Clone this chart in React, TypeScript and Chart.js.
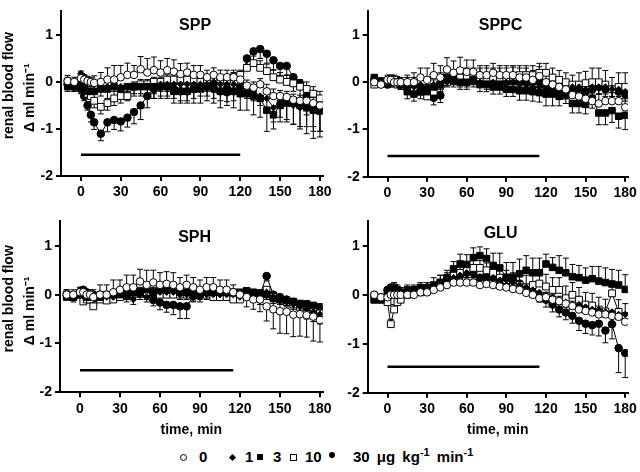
import React, { useEffect, useRef } from 'react';
import { Chart, registerables } from 'chart.js';

Chart.register(...registerables);

const FONT = '"Liberation Sans", Arial, Helvetica, sans-serif';

// ---------- DATA ----------
const TIMES = [
  -10, -5, 0, 2.5, 5, 7.5,
  10, 15, 20, 25, 30, 35,
  40, 45, 50, 55, 60, 65,
  70, 75, 80, 85, 90, 95,
  100, 105, 110, 115, 120, 125,
  130, 135, 140, 145, 150, 155,
  160, 165, 170, 175, 180,
];
const X_TICKS = [0, 30, 60, 90, 120, 150, 180];
const Y_TICKS = [-2, -1, 0, 1];
const DOSES = ['0', '1', '3', '10', '30'];
const PANEL_NAMES = ['SPP', 'SPPC', 'SPH', 'GLU'];
const Y_TITLE_LINES = ['renal blood flow', 'Δ ml min⁻¹'];
const BAR_START = [0, 0, 0, 0];
const BAR_END = [120, 115, 115, 115];
const BAR_LEVEL = [-1.55, -1.56, -1.55, -1.47];

// SPP
const SPP_0 = [0.02, 0.0, 0.08, 0.05, 0.02, 0.0, -0.02, 0.0, 0.05, 0.05, 0.1, 0.15, 0.15, 0.27, 0.2, 0.25, 0.2, 0.25, 0.22, 0.17, 0.2, 0.15, 0.15, 0.1, 0.15, 0.1, 0.1, 0.1, 0.05, -0.08, -0.12, -0.05, -0.2, -0.3, -0.3, -0.32, -0.38, -0.4, -0.4, -0.45, -0.5];
const SPP_0_ERR = [0.12, 0.1, 0.1, 0.1, 0.1, 0.1, 0.15, 0.2, 0.25, 0.3, 0.25, 0.25, 0.2, 0.27, 0.3, 0.28, 0.25, 0.25, 0.25, 0.22, 0.2, 0.2, 0.2, 0.15, 0.15, 0.15, 0.15, 0.15, 0.12, 0.12, 0.12, 0.12, 0.15, 0.15, 0.12, 0.12, 0.12, 0.12, 0.12, 0.12, 0.12];
const SPP_1 = [-0.05, -0.05, 0.18, 0.12, 0.05, 0.0, -0.05, -0.1, -0.1, -0.1, -0.1, -0.1, -0.1, -0.1, -0.1, -0.1, -0.05, -0.05, -0.05, -0.05, -0.05, -0.05, -0.05, -0.05, 0.0, -0.05, -0.05, -0.05, -0.1, -0.15, -0.2, -0.3, -0.35, -0.55, -0.4, -0.45, -0.5, -0.55, -0.55, -0.6, -0.6];
const SPP_1_ERR = [-0.1, -0.1, 0.05, -0.1, -0.1, -0.1, -0.1, -0.1, -0.1, -0.1, -0.1, -0.1, -0.15, -0.15, -0.15, -0.15, -0.15, -0.15, -0.15, -0.15, -0.15, -0.15, -0.15, -0.15, -0.15, -0.15, -0.15, -0.15, -0.15, -0.2, -0.2, -0.2, -0.3, -0.3, -0.35, -0.35, -0.4, -0.4, -0.4, -0.45, -0.45];
const SPP_3 = [-0.1, -0.1, -0.05, -0.15, -0.2, -0.2, -0.2, -0.15, -0.15, -0.1, -0.15, -0.1, -0.1, -0.1, -0.1, -0.1, -0.1, -0.1, -0.2, -0.2, -0.2, -0.15, -0.15, -0.1, -0.1, -0.2, -0.15, -0.2, -0.25, -0.25, -0.3, -0.35, -0.6, -0.7, -0.5, -0.45, -0.45, -0.5, -0.55, -0.6, -0.62];
const SPP_3_ERR = [-0.1, -0.1, -0.1, -0.1, -0.1, -0.15, -0.15, -0.15, -0.2, -0.2, -0.2, -0.2, -0.2, -0.2, -0.2, -0.25, -0.25, -0.25, -0.25, -0.25, -0.25, -0.3, -0.3, -0.3, -0.35, -0.35, -0.35, -0.35, -0.35, -0.35, -0.4, -0.4, -0.45, -0.3, -0.35, -0.4, -0.45, -0.5, -0.55, -0.6, -0.55];
const SPP_10 = [0.0, -0.05, 0.0, -0.15, -0.25, -0.3, -0.4, -0.53, -0.45, -0.35, -0.3, -0.3, -0.1, -0.05, -0.05, 0.0, 0.0, 0.05, 0.05, 0.05, 0.05, 0.05, 0.0, 0.05, 0.05, 0.05, 0.05, 0.1, 0.15, 0.3, 0.4, 0.3, 0.23, 0.1, 0.05, 0.0, -0.03, -0.1, -0.15, -0.25, -0.35];
const SPP_10_ERR = [0.1, 0.1, 0.1, -0.1, -0.1, -0.12, -0.15, -0.15, -0.15, -0.15, -0.15, -0.1, 0.1, 0.1, 0.1, 0.1, 0.1, 0.1, 0.1, 0.1, 0.1, 0.1, 0.1, 0.1, 0.1, 0.1, 0.1, 0.1, 0.1, 0.15, 0.15, 0.15, 0.15, 0.15, 0.15, 0.15, 0.15, 0.15, 0.15, 0.15, 0.15];
const SPP_30 = [-0.05, -0.1, -0.15, -0.3, -0.5, -0.7, -0.86, -1.1, -0.86, -0.81, -0.84, -0.76, -0.64, -0.5, -0.3, -0.15, -0.1, -0.1, -0.15, -0.2, -0.2, -0.15, -0.1, -0.1, -0.15, -0.2, -0.22, -0.2, -0.1, 0.5, 0.65, 0.7, 0.6, 0.46, 0.34, 0.34, 0.1, -0.03, -0.3, -0.5, -0.6];
const SPP_30_ERR = [-0.05, -0.1, -0.1, -0.1, -0.1, -0.15, -0.15, -0.15, -0.2, -0.2, -0.2, -0.2, -0.25, -0.3, -0.25, -0.2, -0.2, -0.2, -0.2, -0.2, -0.2, -0.2, -0.2, -0.2, -0.2, -0.2, -0.2, -0.2, -0.2, -0.2, -0.2, -0.2, -0.2, -0.2, -0.2, -0.2, -0.3, -0.35, -0.4, -0.45, -0.45];

// SPPC
const SPPC_0 = [0.0, -0.05, 0.05, 0.05, 0.0, 0.0, 0.0, 0.0, 0.0, 0.1, 0.05, 0.15, 0.1, 0.27, 0.2, 0.25, 0.22, 0.22, 0.15, 0.15, 0.2, 0.15, 0.15, 0.15, 0.1, 0.1, 0.05, 0.13, 0.0, -0.05, -0.1, -0.15, -0.27, -0.3, -0.35, -0.4, -0.45, -0.4, -0.4, -0.4, -0.53];
const SPPC_0_ERR = [0.1, 0.1, 0.1, 0.1, 0.1, 0.1, 0.1, 0.15, 0.2, 0.2, 0.25, 0.25, 0.25, 0.25, 0.25, 0.28, 0.25, 0.25, 0.2, 0.2, 0.2, 0.2, 0.2, 0.2, 0.2, 0.2, 0.2, 0.2, 0.2, 0.2, 0.2, 0.2, 0.2, 0.2, 0.2, 0.2, 0.2, 0.2, 0.2, 0.2, 0.2];
const SPPC_1 = [0.0, 0.0, 0.05, 0.05, 0.0, -0.05, -0.05, -0.1, -0.1, -0.05, -0.1, -0.05, -0.05, 0.0, 0.05, 0.0, 0.0, 0.05, 0.0, -0.05, 0.0, -0.05, 0.0, 0.0, -0.05, -0.05, -0.1, -0.1, -0.15, -0.15, -0.2, -0.2, -0.1, -0.1, -0.15, -0.1, -0.1, -0.1, -0.15, -0.15, -0.2];
const SPPC_1_ERR = [-0.05, -0.05, -0.05, -0.05, -0.05, -0.05, -0.1, -0.1, -0.1, -0.1, -0.1, -0.1, -0.1, -0.1, -0.1, -0.1, -0.1, -0.1, -0.1, -0.1, -0.1, -0.1, -0.1, -0.1, -0.1, -0.1, -0.1, -0.1, -0.15, -0.15, -0.15, -0.15, -0.15, -0.15, -0.15, -0.15, -0.15, -0.15, -0.15, -0.15, -0.15];
const SPPC_3 = [0.1, 0.0, 0.0, 0.0, 0.0, 0.0, -0.05, -0.2, -0.25, -0.2, -0.2, -0.1, -0.05, 0.1, 0.05, 0.0, 0.0, 0.05, -0.05, -0.05, -0.1, -0.1, -0.15, -0.15, -0.18, -0.18, -0.2, -0.22, -0.25, -0.25, -0.3, -0.25, -0.45, -0.45, -0.47, -0.35, -0.65, -0.65, -0.6, -0.72, -0.7];
const SPPC_3_ERR = [-0.1, -0.1, -0.1, -0.1, -0.1, -0.1, -0.1, -0.15, -0.15, -0.15, -0.15, -0.15, -0.15, -0.15, -0.15, -0.15, -0.15, -0.15, -0.15, -0.15, -0.15, -0.15, -0.15, -0.15, -0.2, -0.2, -0.2, -0.2, -0.25, -0.25, -0.2, -0.2, -0.2, -0.2, -0.2, -0.2, -0.25, -0.25, -0.25, -0.25, -0.3];
const SPPC_10 = [-0.05, 0.0, 0.0, 0.05, 0.05, -0.05, -0.05, -0.1, -0.15, -0.2, -0.3, -0.2, -0.05, 0.0, 0.05, 0.1, 0.1, 0.1, 0.1, 0.1, 0.1, 0.1, 0.1, 0.12, 0.15, 0.15, 0.15, 0.2, 0.2, 0.1, 0.05, 0.0, -0.05, -0.05, -0.02, 0.0, 0.0, -0.05, -0.15, -0.1, -0.1];
const SPPC_10_ERR = [0.1, 0.1, 0.1, 0.1, 0.1, 0.1, 0.1, 0.2, 0.25, 0.3, 0.25, 0.25, 0.25, 0.2, 0.2, 0.2, 0.2, 0.2, 0.2, 0.2, 0.2, 0.2, 0.2, 0.2, 0.2, 0.2, 0.2, 0.2, 0.2, 0.2, 0.2, 0.2, 0.2, 0.25, 0.25, 0.3, 0.3, 0.3, 0.25, 0.3, 0.3];
const SPPC_30 = [0.05, 0.0, -0.05, 0.0, 0.05, 0.05, 0.0, -0.05, -0.1, -0.1, -0.15, -0.33, -0.28, 0.05, 0.05, 0.05, 0.05, 0.05, 0.0, 0.0, 0.0, 0.05, 0.0, 0.05, 0.0, 0.0, 0.0, 0.0, -0.05, -0.1, -0.1, -0.2, -0.15, -0.15, -0.2, -0.15, -0.1, -0.15, -0.15, -0.2, -0.25];
const SPPC_30_ERR = [-0.05, -0.05, -0.05, -0.05, -0.05, -0.05, -0.1, -0.1, -0.1, -0.1, -0.15, -0.15, -0.15, -0.1, -0.1, -0.1, -0.1, -0.1, -0.1, -0.1, -0.1, -0.1, -0.1, -0.1, -0.1, -0.1, -0.1, -0.1, -0.15, -0.15, -0.15, -0.15, -0.15, -0.15, -0.15, -0.15, -0.15, -0.15, -0.15, -0.15, -0.15];

// SPH
const SPH_0 = [0.0, 0.0, 0.05, 0.05, 0.0, 0.0, -0.05, 0.0, 0.0, 0.05, 0.1, 0.15, 0.15, 0.27, 0.2, 0.25, 0.2, 0.22, 0.2, 0.15, 0.2, 0.15, 0.1, 0.15, 0.15, 0.1, 0.1, 0.05, 0.0, -0.05, -0.1, -0.1, -0.24, -0.3, -0.34, -0.35, -0.41, -0.4, -0.42, -0.45, -0.52];
const SPH_0_ERR = [0.1, 0.1, 0.1, 0.1, 0.1, 0.1, 0.15, 0.2, 0.2, 0.25, 0.2, 0.25, 0.25, 0.25, 0.3, 0.25, 0.25, 0.25, 0.25, 0.2, 0.2, 0.2, 0.2, 0.2, 0.2, 0.2, 0.2, 0.15, -0.15, -0.2, -0.2, -0.25, -0.3, -0.4, -0.45, -0.45, -0.45, -0.45, -0.45, -0.5, -0.45];
const SPH_1 = [0.0, -0.05, 0.1, 0.05, 0.0, -0.05, -0.05, -0.05, -0.05, -0.05, 0.0, -0.05, -0.1, 0.0, -0.05, 0.0, 0.05, 0.05, 0.05, 0.0, 0.0, -0.05, -0.05, 0.0, 0.0, 0.0, 0.0, 0.0, -0.05, 0.0, 0.0, -0.05, 0.05, -0.05, -0.1, -0.15, -0.2, -0.25, -0.3, -0.35, -0.4];
const SPH_1_ERR = [-0.1, -0.1, -0.1, -0.1, -0.1, -0.1, -0.1, -0.1, -0.1, -0.1, -0.1, -0.1, -0.1, -0.1, -0.1, -0.1, -0.1, -0.1, -0.1, -0.1, -0.1, -0.1, -0.1, -0.1, -0.1, -0.1, -0.1, -0.1, -0.1, -0.1, -0.15, -0.15, -0.15, -0.2, -0.2, -0.2, -0.2, -0.2, -0.2, -0.2, -0.2];
const SPH_3 = [-0.05, -0.05, 0.0, 0.0, -0.05, -0.05, -0.05, -0.05, 0.0, 0.0, 0.0, 0.0, 0.05, 0.05, 0.1, 0.05, 0.1, 0.1, 0.1, 0.1, 0.05, 0.05, 0.05, 0.05, 0.05, 0.05, 0.05, 0.05, 0.05, 0.08, 0.05, 0.03, 0.0, -0.08, -0.1, -0.12, -0.14, -0.18, -0.19, -0.22, -0.25];
const SPH_3_ERR = [-0.05, -0.05, -0.05, -0.05, -0.05, -0.05, -0.05, -0.1, -0.1, -0.1, -0.1, -0.1, -0.1, -0.1, -0.1, -0.1, -0.1, -0.1, -0.1, -0.1, -0.1, -0.1, -0.1, -0.1, -0.1, -0.1, -0.1, -0.1, -0.1, -0.1, -0.1, -0.1, -0.1, -0.1, -0.1, -0.1, -0.1, -0.1, -0.1, -0.1, -0.1];
const SPH_10 = [0.0, -0.05, 0.0, -0.14, -0.1, -0.1, -0.24, -0.1, -0.12, -0.1, -0.05, 0.0, 0.05, 0.05, 0.05, 0.05, 0.0, 0.0, 0.0, 0.0, 0.0, 0.0, 0.0, 0.0, -0.05, -0.05, -0.05, -0.1, -0.1, 0.0, 0.0, 0.0, 0.1, -0.05, -0.1, -0.15, -0.2, -0.25, -0.3, -0.3, -0.35];
const SPH_10_ERR = [0.1, 0.1, 0.1, 0.1, 0.1, 0.1, 0.1, 0.1, 0.1, 0.1, 0.1, 0.1, 0.1, 0.1, 0.1, 0.1, 0.1, 0.1, 0.1, 0.1, 0.1, 0.1, 0.1, 0.1, 0.1, 0.1, 0.1, 0.1, 0.1, 0.1, 0.1, 0.1, 0.0, 0.1, 0.1, 0.1, 0.1, 0.1, 0.1, 0.1, 0.1];
const SPH_30 = [0.0, -0.05, 0.05, 0.1, 0.05, 0.0, 0.0, 0.0, 0.0, 0.0, 0.0, 0.0, 0.05, 0.05, 0.0, -0.11, -0.16, -0.21, -0.21, -0.24, -0.24, -0.03, 0.0, 0.05, 0.05, 0.0, 0.0, 0.0, 0.0, 0.0, 0.0, 0.0, 0.38, 0.0, -0.05, -0.1, -0.15, -0.2, -0.2, -0.25, -0.3];
const SPH_30_ERR = [-0.05, -0.05, -0.05, -0.05, -0.05, -0.05, -0.05, -0.1, -0.1, -0.1, -0.1, -0.1, -0.1, -0.1, -0.1, -0.12, -0.15, -0.15, -0.2, -0.25, -0.25, -0.1, -0.1, -0.1, -0.1, -0.1, -0.1, -0.1, -0.1, -0.1, -0.1, -0.1, -0.1, -0.1, -0.15, -0.15, -0.15, -0.15, -0.15, -0.15, -0.15];

// GLU
const GLU_0 = [0.0, -0.05, -0.05, 0.0, 0.0, 0.0, 0.0, 0.0, 0.0, 0.05, 0.05, 0.1, 0.15, 0.2, 0.25, 0.25, 0.25, 0.25, 0.2, 0.22, 0.2, 0.17, 0.15, 0.12, 0.1, 0.04, 0.0, -0.07, -0.05, -0.1, -0.13, -0.18, -0.23, -0.3, -0.33, -0.36, -0.4, -0.4, -0.43, -0.45, -0.55];
const GLU_0_ERR = [0.05, 0.05, 0.05, 0.05, 0.05, 0.05, 0.05, 0.1, 0.1, 0.1, 0.1, 0.1, 0.1, 0.1, 0.1, 0.1, 0.1, 0.1, 0.1, 0.1, 0.1, 0.1, 0.1, 0.1, 0.1, 0.1, 0.1, 0.1, 0.1, 0.1, 0.1, 0.1, 0.1, 0.1, 0.1, 0.1, 0.1, 0.1, 0.1, 0.1, 0.1];
const GLU_1 = [0.0, -0.05, 0.05, 0.1, 0.1, 0.05, 0.05, 0.05, 0.1, 0.1, 0.1, 0.15, 0.2, 0.25, 0.35, 0.4, 0.45, 0.4, 0.35, 0.3, 0.35, 0.3, 0.3, 0.25, 0.2, 0.15, 0.1, 0.05, 0.0, -0.05, -0.1, -0.15, -0.2, -0.2, -0.25, -0.3, -0.3, -0.35, -0.35, -0.4, -0.4];
const GLU_1_ERR = [-0.05, -0.05, -0.05, -0.05, -0.05, -0.05, -0.1, -0.1, -0.1, -0.1, -0.1, -0.1, -0.1, -0.1, -0.1, -0.1, -0.1, -0.1, -0.1, -0.1, -0.1, -0.1, -0.1, -0.1, -0.1, -0.1, -0.1, -0.1, -0.1, -0.1, -0.1, -0.1, -0.1, -0.1, -0.1, -0.1, -0.1, -0.1, -0.1, -0.1, -0.1];
const GLU_3 = [-0.1, -0.1, 0.05, 0.1, 0.15, 0.1, 0.05, 0.1, 0.1, 0.15, 0.1, 0.2, 0.25, 0.35, 0.53, 0.63, 0.62, 0.76, 0.8, 0.74, 0.6, 0.55, 0.36, 0.36, 0.43, 0.5, 0.45, 0.45, 0.63, 0.56, 0.5, 0.45, 0.37, 0.35, 0.3, 0.33, 0.28, 0.25, 0.22, 0.2, 0.11];
const GLU_3_ERR = [0.05, 0.05, 0.05, 0.1, 0.1, 0.1, 0.1, 0.1, 0.1, 0.1, 0.15, 0.15, 0.15, 0.15, 0.15, 0.2, 0.2, 0.2, 0.18, 0.2, 0.25, 0.3, 0.3, 0.3, 0.3, 0.3, 0.3, 0.3, 0.2, 0.2, 0.3, 0.3, 0.25, 0.25, 0.25, 0.25, 0.3, 0.3, 0.3, 0.3, 0.3];
const GLU_10 = [-0.1, -0.1, -0.15, -0.6, -0.3, -0.15, -0.1, 0.0, 0.05, 0.05, 0.1, 0.15, 0.25, 0.3, 0.4, 0.45, 0.5, 0.55, 0.55, 0.5, 0.45, 0.35, 0.3, 0.25, 0.2, 0.15, 0.2, 0.23, 0.17, 0.1, 0.1, -0.07, 0.0, -0.1, -0.2, -0.22, -0.3, -0.34, 0.03, -0.35, -0.43];
const GLU_10_ERR = [0.05, 0.05, 0.05, 0.1, 0.1, 0.1, 0.1, 0.1, 0.1, 0.1, 0.1, 0.1, 0.15, 0.15, 0.15, 0.15, 0.15, 0.15, 0.15, 0.15, 0.15, 0.15, 0.2, 0.2, 0.2, 0.25, 0.25, 0.25, 0.25, 0.25, 0.25, 0.25, 0.25, 0.25, 0.25, 0.25, 0.25, 0.25, 0.25, 0.25, 0.25];
const GLU_30 = [0.0, -0.05, 0.1, 0.15, 0.15, 0.1, 0.05, 0.05, 0.1, 0.1, 0.15, 0.15, 0.2, 0.25, 0.3, 0.4, 0.45, 0.45, 0.35, 0.4, 0.35, 0.3, 0.3, 0.25, 0.23, 0.15, 0.05, -0.05, -0.1, -0.2, -0.3, -0.36, -0.43, -0.53, -0.59, -0.62, -0.59, -0.73, -0.6, -1.09, -1.19];
const GLU_30_ERR = [-0.05, -0.05, -0.05, -0.05, -0.05, -0.05, -0.05, -0.05, -0.05, -0.05, -0.1, -0.1, -0.1, -0.1, -0.1, -0.1, -0.1, -0.1, -0.1, -0.1, -0.1, -0.1, -0.1, -0.1, -0.1, -0.1, -0.1, -0.1, -0.15, -0.15, -0.15, -0.15, -0.15, -0.2, -0.2, -0.2, -0.25, -0.25, -0.3, -0.5, -0.5];

const PANEL_VALUES = [
  [SPP_0, SPP_1, SPP_3, SPP_10, SPP_30],
  [SPPC_0, SPPC_1, SPPC_3, SPPC_10, SPPC_30],
  [SPH_0, SPH_1, SPH_3, SPH_10, SPH_30],
  [GLU_0, GLU_1, GLU_3, GLU_10, GLU_30],
];
const PANEL_ERRORS = [
  [SPP_0_ERR, SPP_1_ERR, SPP_3_ERR, SPP_10_ERR, SPP_30_ERR],
  [SPPC_0_ERR, SPPC_1_ERR, SPPC_3_ERR, SPPC_10_ERR, SPPC_30_ERR],
  [SPH_0_ERR, SPH_1_ERR, SPH_3_ERR, SPH_10_ERR, SPH_30_ERR],
  [GLU_0_ERR, GLU_1_ERR, GLU_3_ERR, GLU_10_ERR, GLU_30_ERR],
];

// ---------- STYLE / LAYOUT ----------
const MARKERS = [
  { pointStyle: 'circle', radius: 3.8, fill: '#ffffff' },
  { pointStyle: 'rectRot', radius: 3.2, fill: '#000000' },
  { pointStyle: 'rect', radius: 4.6, fill: '#000000' },
  { pointStyle: 'rect', radius: 4.8, fill: '#ffffff' },
  { pointStyle: 'circle', radius: 3.8, fill: '#000000' },
];

const LAYOUT = [
  { left: 0, top: 0, w: 340, h: 210, yw: 61, pr: 17.4, pt: 0, xh: 34, yTitle: true, xTitle: false, lx: 86, ly: 1.19 },
  { left: 340, top: 0, w: 300, h: 210, yw: 27.7, pr: 9.3, pt: 2.9, xh: 33.3, yTitle: false, xTitle: false, lx: 85.6, ly: 1.2 },
  { left: 0, top: 210, w: 340, h: 232, yw: 60, pr: 17.4, pt: 4.6, xh: 49.7, yTitle: true, xTitle: true, lx: 86, ly: 1.16 },
  { left: 340, top: 210, w: 300, h: 232, yw: 27.7, pr: 9.3, pt: 6.5, xh: 49.3, yTitle: false, xTitle: true, lx: 85.6, ly: 1.25 },
];

const errorBarPlugin = {
  id: 'errorBars',
  beforeDatasetsDraw(chart: any) {
    const { ctx, scales } = chart;
    const xs = scales.x;
    const ys = scales.y;
    ctx.save();
    ctx.strokeStyle = '#000';
    ctx.lineWidth = 1;
    chart.data.datasets.forEach((ds: any) => {
      if (!ds.errors) return;
      ds.data.forEach((p: any, i: number) => {
        const e = ds.errors[i];
        if (!e) return;
        const px = xs.getPixelForValue(p.x);
        const py0 = ys.getPixelForValue(p.y);
        const py1 = ys.getPixelForValue(p.y + e);
        ctx.beginPath();
        ctx.moveTo(px, py0);
        ctx.lineTo(px, py1);
        ctx.moveTo(px - 3, py1);
        ctx.lineTo(px + 3, py1);
        ctx.stroke();
      });
    });
    ctx.restore();
  },
};

const panelLabelPlugin = {
  id: 'panelLabel',
  afterDatasetsDraw(chart: any, _args: any, opts: any) {
    const { ctx, scales, chartArea } = chart;
    ctx.save();
    ctx.font = `bold 16px ${FONT}`;
    ctx.fillStyle = '#000';
    ctx.textAlign = 'center';
    ctx.textBaseline = 'middle';
    ctx.fillText(opts.text, scales.x.getPixelForValue(opts.x), scales.y.getPixelForValue(opts.y));
    if (opts.yTitle) {
      const mid = (chartArea.top + chartArea.bottom) / 2;
      ctx.font = `bold 14px ${FONT}`;
      const cols = [9.5, 30];
      const shifts = [-8, 4];
      Y_TITLE_LINES.forEach((line, k) => {
        ctx.save();
        ctx.translate(cols[k], mid + shifts[k]);
        ctx.rotate(-Math.PI / 2);
        ctx.fillText(line, 0, 0);
        ctx.restore();
      });
    }
    ctx.restore();
  },
};

function Panel({ index }: { index: number }) {
  const ref = useRef<HTMLCanvasElement | null>(null);
  const L = LAYOUT[index];
  useEffect(() => {
    if (!ref.current) return;
    const values = PANEL_VALUES[index];
    const errors = PANEL_ERRORS[index];
    const datasets: any[] = values.map((vals, s) => ({
      label: DOSES[s],
      data: TIMES.map((t, i) => ({ x: t, y: vals[i] })),
      errors: errors[s],
      borderColor: '#000',
      borderWidth: 1,
      pointStyle: MARKERS[s].pointStyle,
      pointRadius: MARKERS[s].radius,
      pointBackgroundColor: MARKERS[s].fill,
      pointBorderColor: '#000',
      pointBorderWidth: 1,
      fill: false,
      tension: 0,
    }));
    datasets.push({
      label: 'infusion',
      data: [
        { x: BAR_START[index], y: BAR_LEVEL[index] },
        { x: BAR_END[index], y: BAR_LEVEL[index] },
      ],
      borderColor: '#000',
      borderWidth: 2.5,
      pointRadius: 0,
      fill: false,
    });
    const tickFont = { family: FONT, size: 14, weight: 'bold' as const };
    const grid = { display: true, drawOnChartArea: false, drawTicks: true, tickLength: 5, color: '#000', lineWidth: 2 };
    const border = { display: true, color: '#000', width: 2 };
    const chart = new Chart(ref.current, {
      type: 'line',
      data: { datasets },
      options: {
        responsive: false,
        animation: false,
        events: [],
        layout: { padding: { left: 0, right: L.pr, top: L.pt, bottom: 0 } },
        plugins: {
          legend: { display: false },
          tooltip: { enabled: false },
          panelLabel: { text: PANEL_NAMES[index], x: L.lx, y: L.ly, yTitle: L.yTitle },
        } as any,
        scales: {
          x: {
            type: 'linear',
            min: -15,
            max: 182,
            afterBuildTicks: (s: any) => {
              s.ticks = X_TICKS.map((v) => ({ value: v }));
            },
            afterFit: (s: any) => {
              s.height = L.xh;
            },
            grid,
            border,
            ticks: { color: '#000', padding: 3, maxRotation: 0, autoSkip: false, font: tickFont },
            title: {
              display: L.xTitle,
              text: 'time, min',
              color: '#000',
              font: { family: FONT, size: 14, weight: 'bold' },
              padding: { top: 0, bottom: 3 },
            },
          },
          y: {
            type: 'linear',
            min: -2,
            max: 1.5,
            afterBuildTicks: (s: any) => {
              s.ticks = Y_TICKS.map((v) => ({ value: v }));
            },
            afterFit: (s: any) => {
              s.width = L.yw;
            },
            grid,
            border,
            ticks: { color: '#000', padding: 3, font: tickFont },
          },
        } as any,
      },
      plugins: [errorBarPlugin, panelLabelPlugin],
    } as any);
    return () => chart.destroy();
  }, [index]);
  return (
    <canvas
      ref={ref}
      width={L.w}
      height={L.h}
      style={{ position: 'absolute', left: L.left, top: L.top, width: L.w, height: L.h, display: 'block' }}
    />
  );
}

const LEGEND_MARK_X = [183, 232, 260, 293, 332];
const LEGEND_LABEL_X = [199, 245, 273, 305, 353];

function LegendMarker({ s, x }: { s: number; x: number }) {
  const base: React.CSSProperties = { position: 'absolute', boxSizing: 'border-box' };
  const y = 457;
  if (s === 0) return <span style={{ ...base, left: x - 3.5, top: y - 3.5, width: 7, height: 7, border: '1px solid #000', borderRadius: '50%', background: '#fff' }} />;
  if (s === 1) return <span style={{ ...base, left: x - 2.5, top: y - 2.5, width: 5, height: 5, background: '#000', transform: 'rotate(45deg)' }} />;
  if (s === 2) return <span style={{ ...base, left: x - 3, top: y - 3, width: 6, height: 6, background: '#000' }} />;
  if (s === 3) return <span style={{ ...base, left: x - 3.5, top: y - 3.5, width: 7, height: 7, border: '1px solid #000', background: '#fff' }} />;
  return <span style={{ ...base, left: x - 3, top: y - 5, width: 6, height: 6, borderRadius: '50%', background: '#000' }} />;
}

export default function App() {
  const sup: React.CSSProperties = { fontSize: 11, verticalAlign: 'super', lineHeight: 0 };
  return (
    <div style={{ position: 'absolute', left: 0, top: 0, width: 640, height: 472, background: '#fff', overflow: 'hidden' }}>
      {[0, 1, 2, 3].map((i) => (
        <Panel key={i} index={i} />
      ))}
      {DOSES.map((d, s) => (
        <React.Fragment key={d}>
          <LegendMarker s={s} x={LEGEND_MARK_X[s]} />
          <span
            style={{
              position: 'absolute',
              left: LEGEND_LABEL_X[s],
              top: 448,
              font: `bold 15px ${FONT}`,
              lineHeight: '18px',
              whiteSpace: 'nowrap',
              wordSpacing: 3,
              color: '#000',
            }}
          >
            {d}
            {s === 4 ? (
              <>
                {' μg kg'}
                <span style={sup}>-1</span>
                {' min'}
                <span style={sup}>-1</span>
              </>
            ) : null}
          </span>
        </React.Fragment>
      ))}
    </div>
  );
}
